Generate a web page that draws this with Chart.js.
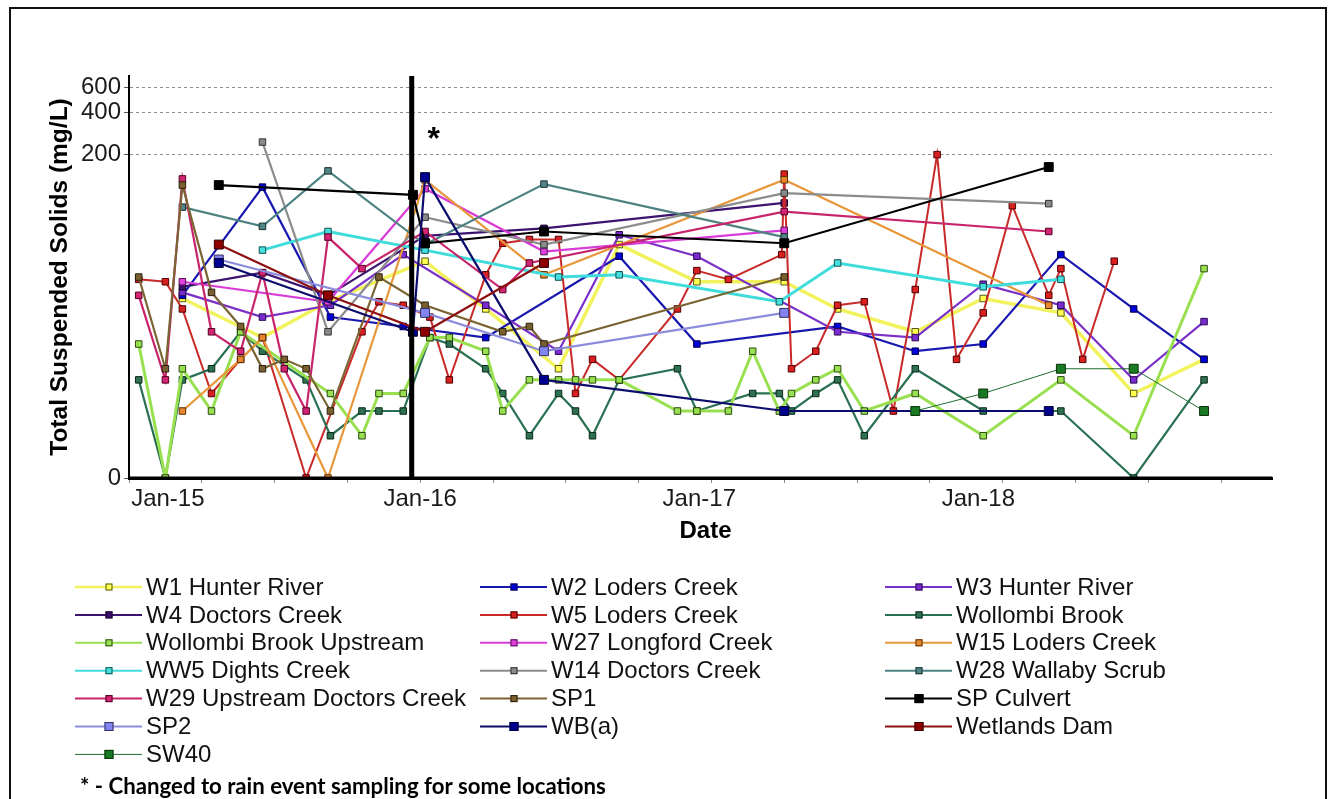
<!DOCTYPE html>
<html>
<head>
<meta charset="utf-8">
<title>Total Suspended Solids</title>
<script src="https://cdn.jsdelivr.net/npm/chart.js@4.4.1/dist/chart.umd.min.js"></script>
<style>
  html, body { margin: 0; padding: 0; background: #ffffff; }
  canvas { display: block; }
</style>
</head>
<body>
<canvas id="tss" width="1335" height="799"></canvas>
<script>
// Each row: [months since 1 Jan 2015, total suspended solids in mg/L]
const W1_HUNTER_RIVER = [[2.2,18],[5.5,9],[8.2,17],[12.2,34],[14.7,15],[17.7,5],[20.2,45],[23.4,24],[27.0,24],[29.2,15],[32.4,10],[35.2,18],[38.4,14],[41.4,3],[44.3,6]];
const W2_LODERS_CREEK = [[2.2,19],[5.5,117],[8.3,13],[11.3,11],[14.7,9],[20.2,37],[23.4,8],[29.2,11],[32.4,7],[35.2,8],[38.4,38],[41.4,15],[44.3,6]];
const W3_HUNTER_RIVER = [[2.2,20],[5.5,13],[8.3,16],[11.3,38],[14.7,16],[17.7,7],[20.2,53],[23.4,37],[29.2,10],[32.4,9],[35.2,23],[38.4,16],[41.4,4],[44.3,12]];
const W4_DOCTORS_CREEK = [[2.2,22],[5.5,28],[8.2,19],[12.2,52],[17.1,59],[27.0,90]];
const W5_LODERS_CREEK = [[0.4,25],[1.5,24],[2.2,15],[3.4,3],[4.6,6],[5.5,9],[7.3,0],[9.6,10],[10.3,17],[11.3,16],[12.4,13],[13.2,4],[14.7,27],[15.4,46],[16.5,49],[17.7,49],[18.4,3],[19.1,6],[20.2,4],[22.6,15],[23.4,29],[24.7,25],[26.9,38],[27.0,145],[27.3,5],[28.3,7],[29.2,16],[30.3,17],[31.5,2],[32.4,21],[33.3,200],[34.1,6],[35.2,14],[36.4,86],[37.9,19],[38.4,30],[39.3,6],[40.6,34]];
const WOLLOMBI_BROOK = [[0.4,4],[1.5,0],[2.2,4],[3.4,5],[4.6,10],[5.5,7],[7.3,4],[8.3,1],[9.6,2],[10.3,2],[11.3,2],[12.4,9],[13.2,8],[14.7,5],[15.4,3],[16.5,1],[17.7,3],[18.4,2],[19.1,1],[20.2,4],[22.6,5],[23.4,2],[25.7,3],[26.8,3],[27.3,2],[28.3,3],[29.2,4],[30.3,1],[32.4,5],[35.2,2],[38.4,2],[41.4,0],[44.3,4]];
const WOLLOMBI_BROOK_UPSTREAM = [[0.4,8],[1.5,0],[2.2,5],[3.4,2],[4.6,10],[8.3,3],[9.6,1],[10.3,3],[11.3,3],[12.4,9],[13.2,9],[14.7,7],[15.4,2],[16.5,4],[17.7,4],[18.4,4],[19.1,4],[20.2,4],[22.6,2],[23.4,2],[24.7,2],[25.7,7],[26.8,2],[27.3,3],[28.3,4],[29.2,5],[30.3,2],[32.4,3],[35.2,1],[38.4,4],[41.4,1],[44.3,30]];
const W27_LONGFORD_CREEK = [[2.2,24],[8.2,17],[12.2,114],[17.1,40],[27.0,57]];
const W15_LODERS_CREEK = [[2.2,2],[4.6,6],[5.5,9],[8.2,0],[12.2,132],[17.1,27],[27.0,132],[37.9,16]];
const WW5_DIGHTS_CREEK = [[5.5,41],[8.2,56],[12.2,41],[17.7,26],[20.2,27],[26.8,17],[29.2,33],[35.2,22],[38.4,25]];
const W14_DOCTORS_CREEK = [[5.5,246],[8.2,10],[12.2,71],[17.1,45],[27.0,106],[37.9,89]];
const W28_WALLABY_SCRUB = [[2.2,84],[5.5,61],[8.2,153],[12.2,45],[17.1,123],[27.0,51]];
const W29_UPSTREAM_DOCTORS_CREEK = [[0.4,19],[1.5,4],[2.2,134],[3.4,10],[4.6,7],[5.5,28],[6.4,5],[7.3,2],[8.2,51],[9.6,30],[12.2,56],[15.4,21],[16.5,33],[27.0,78],[37.9,56]];
const SP1 = [[0.4,26],[1.5,5],[2.2,121],[3.4,20],[4.6,11],[5.5,5],[6.4,6],[7.3,5],[8.3,2],[10.3,26],[12.2,16],[15.4,10],[16.5,11],[17.1,8],[27.0,26]];
const SP_CULVERT = [[3.7,121],[11.7,103],[12.2,46],[17.1,56],[27.0,46],[37.9,163]];
const SP2 = [[3.7,35],[12.2,14],[17.1,7],[27.0,14]];
const WB_A = [[3.7,33],[11.7,10],[12.2,138],[17.1,4],[27.0,2],[37.9,2]];
const WETLANDS_DAM = [[3.7,45],[8.2,19],[12.2,10],[17.1,33]];
const SW40 = [[32.4,2],[35.2,3],[38.4,5],[41.4,5],[44.3,2]];

// Axis text
const Y_TICK_VALUES = [0, 200, 400, 600];
const Y_TICK_LABELS = ['0', '200', '400', '600'];
const YEAR_LABELS = ['Jan-15', 'Jan-16', 'Jan-17', 'Jan-18'];
const YEAR_LABEL_AT = [1.6, 12, 23.5, 35];
const RAIN_EVENT_CHANGE = 11.65; // month when sampling switched to rain events
const FOOTNOTE = '* - Changed to rain event sampling for some locations';

// log(TSS + 1) keeps zero readings on the bottom axis
const LOG_OFFSET = 1;

const SERIES = [
  { label: 'W1 Hunter River', rows: W1_HUNTER_RIVER, line: '#F2F25C', fill: '#FFFF50', edge: '#55551c', width: 3.5, legendWidth: 2.5 },
  { label: 'W2 Loders Creek', rows: W2_LODERS_CREEK, line: '#1818B0', fill: '#0000D8', edge: '#00004a', width: 2.2 },
  { label: 'W3 Hunter River', rows: W3_HUNTER_RIVER, line: '#7A30C8', fill: '#7A2CD0', edge: '#2a0a50', width: 2.2 },
  { label: 'W4 Doctors Creek', rows: W4_DOCTORS_CREEK, line: '#3C1470', fill: '#3A0C70', edge: '#150025', width: 2.2 },
  { label: 'W5 Loders Creek', rows: W5_LODERS_CREEK, line: '#C82A2A', fill: '#D82020', edge: '#500000', width: 2 },
  { label: 'Wollombi Brook', rows: WOLLOMBI_BROOK, line: '#2A7052', fill: '#2E7050', edge: '#0a2a1a', width: 2.2 },
  { label: 'Wollombi Brook Upstream', rows: WOLLOMBI_BROOK_UPSTREAM, line: '#98E050', fill: '#98E050', edge: '#2a4a10', width: 3 },
  { label: 'W27 Longford Creek', rows: W27_LONGFORD_CREEK, line: '#D83CD8', fill: '#E040E0', edge: '#501050', width: 2.2 },
  { label: 'W15 Loders Creek', rows: W15_LODERS_CREEK, line: '#E8963A', fill: '#E8862E', edge: '#5a3000', width: 2.2 },
  { label: 'WW5 Dights Creek', rows: WW5_DIGHTS_CREEK, line: '#40DCDC', fill: '#44E0E0', edge: '#105050', width: 3 },
  { label: 'W14 Doctors Creek', rows: W14_DOCTORS_CREEK, line: '#8C8C8C', fill: '#8A8A8A', edge: '#333333', width: 2.2 },
  { label: 'W28 Wallaby Scrub', rows: W28_WALLABY_SCRUB, line: '#4E8282', fill: '#528686', edge: '#1a3030', width: 2.2 },
  { label: 'W29 Upstream Doctors Creek', rows: W29_UPSTREAM_DOCTORS_CREEK, line: '#C8246C', fill: '#D42474', edge: '#500020', width: 2.2 },
  { label: 'SP1', rows: SP1, line: '#7A6432', fill: '#7A602E', edge: '#2a2010', width: 2.2 },
  { label: 'SP Culvert', rows: SP_CULVERT, line: '#000000', fill: '#000000', edge: '#000000', width: 2.2, big: true },
  { label: 'SP2', rows: SP2, line: '#8C8CDC', fill: '#8484F0', edge: '#303060', width: 2.2, big: true },
  { label: 'WB(a)', rows: WB_A, line: '#0C0C6E', fill: '#000090', edge: '#000030', width: 2.2, big: true },
  { label: 'Wetlands Dam', rows: WETLANDS_DAM, line: '#8C1010', fill: '#8E0000', edge: '#300000', width: 2.2, big: true },
  { label: 'SW40', rows: SW40, line: '#1E6E2E', fill: '#187A22', edge: '#0a300a', width: 1, big: true }
];

const FONT = '"Liberation Sans", Arial, Helvetica, sans-serif';
const SMALL_R = 4.6;
const BIG_R = 6.3;

const quarterTicks = [];
for (let m = 0; m <= 45; m += 3) quarterTicks.push(m);

const datasets = SERIES.map((s, i) => ({
  label: s.label,
  data: s.rows.map(([m, v]) => ({ x: m, y: v + LOG_OFFSET })),
  borderColor: s.line,
  borderWidth: s.width,
  backgroundColor: s.fill,
  pointStyle: 'rect',
  pointRadius: s.big ? BIG_R : SMALL_R,
  pointBackgroundColor: s.fill,
  pointBorderColor: s.edge,
  pointBorderWidth: 1,
  tension: 0,
  fill: false,
  order: SERIES.length - i
}));

function drawSquare(ctx, x, y, side, fill, edge) {
  ctx.fillStyle = fill;
  ctx.fillRect(x - side / 2, y - side / 2, side, side);
  ctx.strokeStyle = edge;
  ctx.lineWidth = 1;
  ctx.strokeRect(x - side / 2 + 0.5, y - side / 2 + 0.5, side - 1, side - 1);
}

const decorations = {
  id: 'decorations',
  afterDatasetsDraw(chart) {
    const { ctx, chartArea: a, scales: { x } } = chart;
    ctx.save();
    // sampling-regime change marker
    const cx = x.getPixelForValue(RAIN_EVENT_CHANGE);
    ctx.fillStyle = '#000';
    ctx.fillRect(cx - 2.5, a.top, 5, a.bottom - a.top + 2);
    // redraw the time axis over markers sitting on zero
    ctx.fillRect(a.left - 1, a.bottom - 1.5, a.right - a.left + 1, 3);
    ctx.font = 'bold 32px ' + FONT;
    ctx.textAlign = 'center';
    ctx.textBaseline = 'middle';
    ctx.fillText('*', cx + 22, a.top + 64);
    ctx.restore();
  },
  afterDraw(chart) {
    const { ctx, chartArea: a, scales: { x } } = chart;
    ctx.save();

    // year labels and axis titles
    ctx.fillStyle = '#1a1a1a';
    ctx.font = '24px ' + FONT;
    ctx.textAlign = 'center';
    ctx.textBaseline = 'middle';
    YEAR_LABELS.forEach((t, i) => ctx.fillText(t, x.getPixelForValue(YEAR_LABEL_AT[i]), a.bottom + 21));

    ctx.fillStyle = '#000';
    ctx.font = 'bold 24px ' + FONT;
    ctx.fillText('Date', (a.left + a.right) / 2 + 5, a.bottom + 53);

    ctx.save();
    ctx.translate(60, (a.top + a.bottom) / 2);
    ctx.rotate(-Math.PI / 2);
    ctx.font = 'bold 24.5px ' + FONT;
    ctx.fillText('Total Suspended Solids (mg/L)', 0, 0);
    ctx.restore();

    // legend: three columns, line with square marker
    const colX = [75, 480, 885];
    const rowY0 = 587, rowStep = 27.9;
    ctx.font = '24px ' + FONT;
    ctx.textAlign = 'left';
    SERIES.forEach((s, i) => {
      const x0 = colX[i % 3];
      const y0 = rowY0 + Math.floor(i / 3) * rowStep;
      ctx.strokeStyle = s.line;
      ctx.lineWidth = s.legendWidth || (s.width < 1.5 ? 1 : 2);
      ctx.beginPath();
      ctx.moveTo(x0, y0);
      ctx.lineTo(x0 + 67, y0);
      ctx.stroke();
      drawSquare(ctx, x0 + 34, y0, s.big ? 9 : 7, s.fill, s.edge);
      ctx.fillStyle = '#111';
      ctx.fillText(s.label, x0 + 71, y0 + 1);
    });

    // footnote
    ctx.fillStyle = '#000';
    ctx.font = 'bold 20px Lato, "Open Sans", sans-serif';
    const w = ctx.measureText(FOOTNOTE).width;
    const size = 20 * 526 / w;
    ctx.font = 'bold ' + size.toFixed(2) + 'px Lato, "Open Sans", sans-serif';
    ctx.textBaseline = 'middle';
    ctx.fillText(FOOTNOTE, 80, 787);

    // outer frame
    ctx.strokeStyle = '#111';
    ctx.lineWidth = 2;
    ctx.strokeRect(10, 8, 1316, 800);
    ctx.restore();
  }
};

new Chart(document.getElementById('tss'), {
  type: 'line',
  data: { datasets },
  plugins: [decorations],
  options: {
    responsive: false,
    animation: false,
    devicePixelRatio: 1,
    layout: { padding: { left: 10, top: 76, right: 63, bottom: 281 } },
    plugins: { legend: { display: false }, tooltip: { enabled: false } },
    scales: {
      x: {
        type: 'linear',
        min: 0,
        max: 47.1,
        afterBuildTicks: s => { s.ticks = quarterTicks.map(v => ({ value: v })); },
        afterFit: s => { s.height = 40; },
        ticks: { display: false },
        grid: { drawOnChartArea: false, drawTicks: true, tickLength: 5, tickColor: '#8a8a8a', tickWidth: 1 },
        border: { display: true, color: '#000', width: 3 }
      },
      y: {
        type: 'logarithmic',
        min: LOG_OFFSET,
        max: 730,
        afterBuildTicks: s => { s.ticks = Y_TICK_VALUES.map(v => ({ value: v + LOG_OFFSET })); },
        afterFit: s => { s.width = 119; },
        ticks: {
          autoSkip: false,
          padding: 3,
          color: '#1a1a1a',
          font: { family: FONT, size: 24 },
          callback: (v, i) => Y_TICK_LABELS[i]
        },
        grid: {
          color: c => (c.tick && c.tick.value > LOG_OFFSET) ? '#8c8c8c' : 'rgba(0,0,0,0)',
          lineWidth: 1,
          tickColor: '#555',
          tickLength: 5
        },
        border: { display: true, color: '#000', width: 2, dash: [3, 3] }
      }
    }
  }
});
</script>
</body>
</html>
